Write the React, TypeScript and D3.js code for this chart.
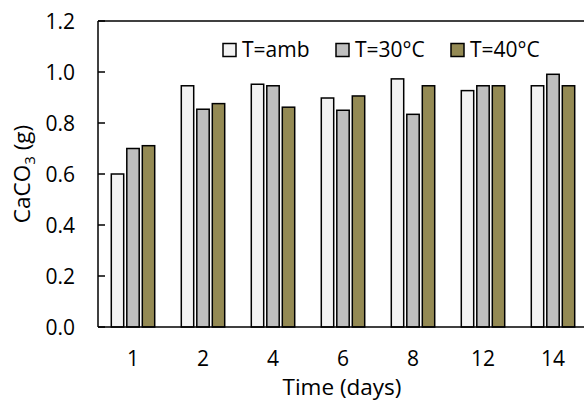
import React from "react";
import * as d3 from "d3";

const categories = ["1", "2", "4", "6", "8", "12", "14"];
const seriesNames = ["T=amb", "T=30°C", "T=40°C"];
const tAmb = [0.60, 0.946, 0.952, 0.898, 0.973, 0.927, 0.946];
const t30 = [0.70, 0.854, 0.946, 0.850, 0.834, 0.946, 0.991];
const t40 = [0.711, 0.876, 0.862, 0.906, 0.946, 0.946, 0.946];
const yTicks = [0, 0.2, 0.4, 0.6, 0.8, 1.0, 1.2];
const colors = ["#F2F2F2", "#BFBFBF", "#948A54"];

const W = 584;
const H = 403;
const FONT = "'Open Sans', sans-serif";

export default function App() {
  const series = [tAmb, t30, t40];
  const left = 98;
  const top = 21;
  const bottom = 327;
  const right = 588;

  const x = d3.scaleBand<string>().domain(categories).range([left, right]).padding(0);
  const inner = d3
    .scaleBand<number>()
    .domain([0, 1, 2])
    .range([0, x.bandwidth()])
    .paddingInner(0.2)
    .paddingOuter(0.858);
  const y = d3.scaleLinear().domain([0, 1.2]).range([bottom, top]);

  const legendX = [223, 336, 451];

  return (
    <svg
      width={W}
      height={H}
      style={{ position: "absolute", left: 0, top: 0, display: "block", background: "#fff" }}
      fontFamily={FONT}
    >
      <rect x={0} y={0} width={W} height={H} fill="#fff" />
      {/* bars */}
      {categories.map((c, ci) => (
        <g key={c}>
          {series.map((s, si) => (
            <rect
              key={si}
              x={(x(c) as number) + (inner(si) as number)}
              y={y(s[ci])}
              width={inner.bandwidth()}
              height={y(0) - y(s[ci])}
              fill={colors[si]}
              stroke="#000"
              strokeWidth={1.5}
            />
          ))}
        </g>
      ))}
      {/* axes */}
      <line x1={left} x2={W} y1={top} y2={top} stroke="#000" strokeWidth={1.3} />
      <line x1={left} x2={left} y1={top} y2={bottom} stroke="#000" strokeWidth={1.5} />
      <line x1={left} x2={W} y1={bottom} y2={bottom} stroke="#000" strokeWidth={1.5} />
      {yTicks.map((t) => (
        <g key={t}>
          <line x1={left} x2={left + 7} y1={y(t)} y2={y(t)} stroke="#000" strokeWidth={1.5} />
          <text
            x={75}
            y={y(t)}
            textAnchor="end"
            dominantBaseline="central"
            fontSize={21}
            fill="#000"
          >
            {t.toFixed(1)}
          </text>
        </g>
      ))}
      {categories.map((c) => (
        <text
          key={c}
          x={(x(c) as number) + x.bandwidth() / 2}
          y={366}
          textAnchor="middle"
          fontSize={21}
          fill="#000"
        >
          {c}
        </text>
      ))}
      <text x={342} y={395} textAnchor="middle" fontSize={22.5} fill="#000">
        Time (days)
      </text>
      <text
        transform={`translate(30,174) rotate(-90)`}
        textAnchor="middle"
        fontSize={22.5}
        fill="#000"
      >
        CaCO<tspan fontSize={15} dy={5}>3</tspan>
        <tspan dy={-5}> (g)</tspan>
      </text>
      {/* legend */}
      {seriesNames.map((n, i) => (
        <g key={n}>
          <rect
            x={legendX[i]}
            y={43.5}
            width={13}
            height={13}
            fill={colors[i]}
            stroke="#000"
            strokeWidth={1.5}
          />
          <text x={legendX[i] + 19} y={57} fontSize={21} fill="#000">
            {n}
          </text>
        </g>
      ))}
    </svg>
  );
}
